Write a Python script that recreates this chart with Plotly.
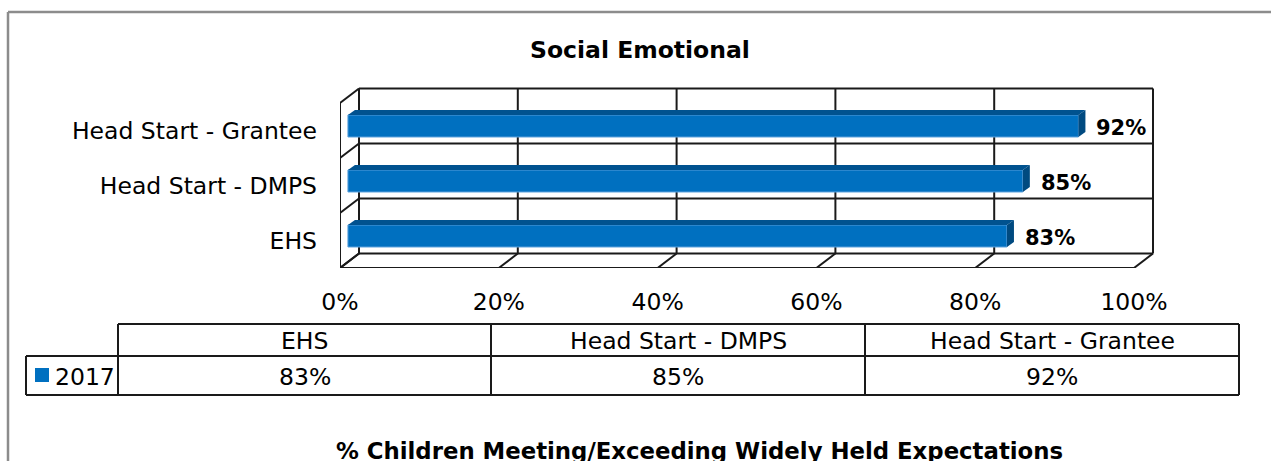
import plotly.graph_objects as go

# ---------------- data ----------------
categories = ["EHS", "Head Start - DMPS", "Head Start - Grantee"]
values_2017 = [83, 85, 92]
series_name = "2017"
x_ticks = [0, 20, 40, 60, 80, 100]
chart_title = "Social Emotional"
bottom_title = "% Children Meeting/Exceeding Widely Held Expectations"

# ---------------- geometry ----------------
W, H = 1271, 461
FONT = "DejaVu Sans"
TXT = 23.5


def px(x):
    return x / W


def py(y):
    return 1 - y / H


X_PX0, X_PX1 = 340, 1160
PX_PER_UNIT = 7.94
x_range = [0, (X_PX1 - X_PX0) / PX_PER_UNIT]
Y_PX_BOTTOM, Y_PX_TOP = 268, 84
ROW_PX = 55.0
y_range = [0, (Y_PX_BOTTOM - Y_PX_TOP) / ROW_PX]

DX = 19 / PX_PER_UNIT      # depth offset of back wall (x units)
DY = 14.5 / ROW_PX         # depth offset of back wall (y units)
BAR_BASE = 1.0             # bar start offset (x units)
BAR_Y_OFF = 0.582          # bar centre within row
BAR_W = 0.40
BDX = 7 / PX_PER_UNIT      # bar depth
BDY = 5 / ROW_PX

BLUE = "#0070C0"
BLUE_TOP = "#00528f"
BLUE_SIDE = "#004a80"

n = len(categories)
ypos = [i + BAR_Y_OFF for i in range(n)]

fig = go.Figure()

# front faces
fig.add_trace(go.Bar(
    x=values_2017, y=ypos, base=[BAR_BASE] * n, orientation="h",
    width=BAR_W, marker=dict(color=BLUE, line=dict(color="#5aa0dc", width=1)),
    name=series_name, showlegend=False, hoverinfo="skip",
))

# 3D top and side faces computed from values
for v, yc in zip(values_2017, ypos):
    x0 = BAR_BASE
    x1 = BAR_BASE + v
    yt = yc + BAR_W / 2
    yb = yc - BAR_W / 2
    fig.add_trace(go.Scatter(
        x=[x0, x0 + BDX, x1 + BDX, x1, x0],
        y=[yt, yt + BDY, yt + BDY, yt, yt],
        fill="toself", fillcolor=BLUE_TOP, mode="lines",
        line=dict(width=0), showlegend=False, hoverinfo="skip"))
    fig.add_trace(go.Scatter(
        x=[x1, x1 + BDX, x1 + BDX, x1, x1],
        y=[yt, yt + BDY, yb + BDY, yb, yt],
        fill="toself", fillcolor=BLUE_SIDE, mode="lines",
        line=dict(width=0), showlegend=False, hoverinfo="skip"))

shapes = []
GRID = dict(color="#1a1a1a", width=2)
# back wall verticals
for t in x_ticks:
    shapes.append(dict(type="line", xref="x", yref="y", x0=t + DX, x1=t + DX,
                       y0=DY, y1=n + DY, line=GRID, layer="below"))
    # floor diagonals
    shapes.append(dict(type="line", xref="x", yref="y", x0=t, x1=t + DX,
                       y0=0, y1=DY, line=GRID, layer="below"))
# back wall horizontals + left wall diagonals
for k in range(n + 1):
    shapes.append(dict(type="line", xref="x", yref="y", x0=DX, x1=x_ticks[-1] + DX,
                       y0=k + DY, y1=k + DY, line=GRID, layer="below"))
    shapes.append(dict(type="line", xref="x", yref="y", x0=0, x1=DX,
                       y0=k, y1=k + DY, line=GRID, layer="below"))
# front left edge and front floor edge
shapes.append(dict(type="line", xref="x", yref="y", x0=0, x1=0, y0=0, y1=n,
                   line=GRID, layer="below"))
shapes.append(dict(type="line", xref="x", yref="y", x0=0, x1=x_ticks[-1], y0=0, y1=0,
                   line=GRID, layer="below"))

# outer frame
FRAME = dict(color="#8c8c8c", width=2.5)
shapes.append(dict(type="line", xref="paper", yref="paper", x0=px(8), x1=1.0,
                   y0=py(12), y1=py(12), line=FRAME))
shapes.append(dict(type="line", xref="paper", yref="paper", x0=px(8), x1=px(8),
                   y0=py(12), y1=0, line=FRAME))

# data table
TL = dict(color="#1a1a1a", width=2)
T_LEFT, T_LEG, T_RIGHT = 26, 118, 1239
T_TOP, T_MID, T_BOT = 324, 356, 395
col_edges = [118, 491, 865, 1239]


def hline(x0, x1, y):
    shapes.append(dict(type="line", xref="paper", yref="paper", x0=px(x0), x1=px(x1),
                       y0=py(y), y1=py(y), line=TL))


def vline(x, y0, y1):
    shapes.append(dict(type="line", xref="paper", yref="paper", x0=px(x), x1=px(x),
                       y0=py(y0), y1=py(y1), line=TL))


hline(T_LEG, T_RIGHT, T_TOP)
hline(T_LEFT, T_RIGHT, T_MID)
hline(T_LEFT, T_RIGHT, T_BOT)
vline(T_LEFT, T_MID, T_BOT)
for ce in col_edges:
    vline(ce, T_TOP, T_BOT)
# legend key square
shapes.append(dict(type="rect", xref="paper", yref="paper", x0=px(35), x1=px(49),
                   y0=py(382), y1=py(368), fillcolor=BLUE, line=dict(width=0)))

annotations = []
# data labels
for v, yc in zip(values_2017, ypos):
    annotations.append(dict(
        x=BAR_BASE + v + BDX + 9 / PX_PER_UNIT, y=yc - 0.03, xref="x", yref="y",
        text=f"<b>{v}%</b>", showarrow=False, xanchor="left", yanchor="middle",
        font=dict(family=FONT, size=21, color="black")))

# table text
for i, (c, v) in enumerate(zip(categories, values_2017)):
    cx = (col_edges[i] + col_edges[i + 1]) / 2
    annotations.append(dict(x=px(cx), y=py((T_TOP + T_MID) / 2 + 1), xref="paper", yref="paper",
                            text=c, showarrow=False, xanchor="center", yanchor="middle",
                            font=dict(family=FONT, size=TXT, color="black")))
    annotations.append(dict(x=px(cx), y=py((T_MID + T_BOT) / 2 + 1), xref="paper", yref="paper",
                            text=f"{v}%", showarrow=False, xanchor="center", yanchor="middle",
                            font=dict(family=FONT, size=TXT, color="black")))
annotations.append(dict(x=px(53), y=py((T_MID + T_BOT) / 2 + 1), xref="paper", yref="paper",
                        text=series_name, showarrow=False, xanchor="left", yanchor="middle",
                        font=dict(family=FONT, size=TXT, color="black")))

# titles
annotations.append(dict(x=px(640), y=py(50), xref="paper", yref="paper",
                        text=f"<b>{chart_title}</b>", showarrow=False,
                        xanchor="center", yanchor="middle",
                        font=dict(family=FONT, size=23.5, color="black")))
annotations.append(dict(x=px(699), y=py(451), xref="paper", yref="paper",
                        text=f"<b>{bottom_title}</b>", showarrow=False,
                        xanchor="center", yanchor="middle",
                        font=dict(family=FONT, size=22.8, color="black")))

fig.update_layout(
    width=W, height=H, autosize=False,
    margin=dict(l=0, r=0, t=0, b=0, autoexpand=False),
    paper_bgcolor="white", plot_bgcolor="rgba(0,0,0,0)",
    showlegend=False,
    font=dict(family=FONT, size=TXT, color="black"),
    xaxis=dict(domain=[px(X_PX0), px(X_PX1)], range=x_range,
               tickvals=x_ticks, ticktext=[f"{t}%" for t in x_ticks],
               showgrid=False, zeroline=False, showline=False, ticks="",
               ticklabelstandoff=17, tickfont=dict(family=FONT, size=TXT, color="black"),
               automargin=False, fixedrange=True),
    yaxis=dict(domain=[py(Y_PX_BOTTOM), py(Y_PX_TOP)], range=y_range,
               tickvals=[i + 0.5 for i in range(n)], ticktext=categories,
               showgrid=False, zeroline=False, showline=False, ticks="",
               ticklabelstandoff=22, tickfont=dict(family=FONT, size=TXT, color="black"),
               automargin=False, fixedrange=True),
    shapes=shapes,
    annotations=annotations,
)

fig.write_html(
    "out.html",
    config={"responsive": False, "displayModeBar": False},
    post_script="document.body.style.margin='0';document.body.style.overflow='hidden';",
)
